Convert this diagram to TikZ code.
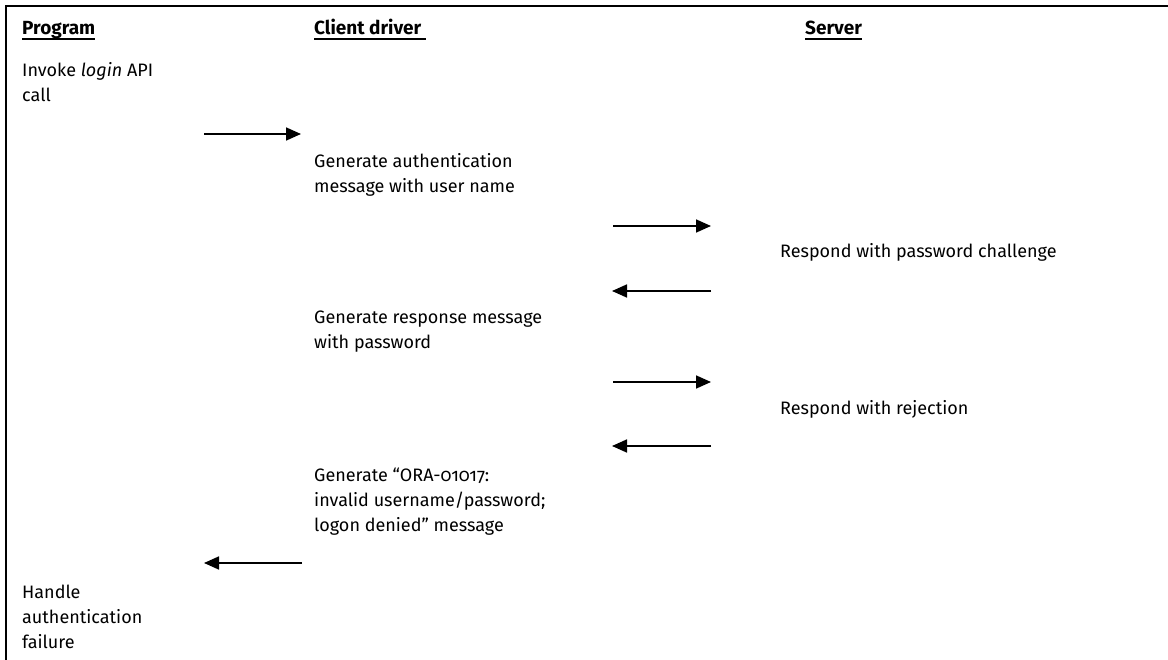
\documentclass[tikz,border=0pt]{standalone}
\usepackage{fontspec}
\setmainfont{Fira Sans}[Numbers=OldStyle]
\usetikzlibrary{arrows.meta}
\begin{document}
\begin{tikzpicture}[x=1pt,y=-1pt,
  txt/.style={anchor=base west,inner sep=0pt,align=left,font=\fontsize{18}{25}\selectfont},
  hdr/.style={anchor=base west,inner sep=0pt,font=\fontsize{19}{24}\selectfont\bfseries},
  uline/.style={line width=1.4pt},
  msg/.style={line width=1.7pt,-{Triangle[length=15pt,width=13pt]}},
  frame/.style={line width=2.4pt}]
\useasboundingbox (0,0) rectangle (1168,660);
\draw[frame] (6,660) -- (6,6) -- (1168,6);
% headers
\node[hdr] (hP) at (22,35) {Program};
\node[hdr] (hC) at (314,35) {Client driver};
\node[hdr] (hS) at (805,35) {Server};
\draw[uline] ([yshift=-4pt]hP.base west) -- ([yshift=-4pt]hP.base east);
\draw[uline] ([yshift=-4pt]hC.base west) -- ([yshift=-4pt,xshift=4pt]hC.base east);
\draw[uline] ([yshift=-4pt]hS.base west) -- ([yshift=-4pt]hS.base east);
% texts (anchored at the baseline of their last line)
\node[txt] (t1) at (22,102) {Invoke \textit{login} API\\call};
\node[txt] (t2) at (314,193) {Generate authentication\\message with user name};
\node[txt] (t3) at (780,258) {Respond with password challenge};
\node[txt] (t4) at (314,349) {Generate response message\\with password};
\node[txt] (t5) at (780,414) {Respond with rejection};
\node[txt] (t6) at (314,531) {Generate “ORA-01017:\\invalid username/password;\\logon denied” message};
\node[txt] (t7) at (22,648) {Handle\\authentication\\failure};
% arrow endpoints
\coordinate (a1s) at (204,134); \coordinate (a1e) at (301,134);
\coordinate (a2s) at (613,226); \coordinate (a2e) at (711,226);
\coordinate (a3s) at (711,291); \coordinate (a3e) at (612,291);
\coordinate (a4s) at (613,382); \coordinate (a4e) at (711,382);
\coordinate (a5s) at (711,446); \coordinate (a5e) at (612,446);
\coordinate (a6s) at (302,563); \coordinate (a6e) at (204,563);
\draw[msg] (a1s) -- (a1e);
\draw[msg] (a2s) -- (a2e);
\draw[msg] (a3s) -- (a3e);
\draw[msg] (a4s) -- (a4e);
\draw[msg] (a5s) -- (a5e);
\draw[msg] (a6s) -- (a6e);
\end{tikzpicture}
\end{document}
